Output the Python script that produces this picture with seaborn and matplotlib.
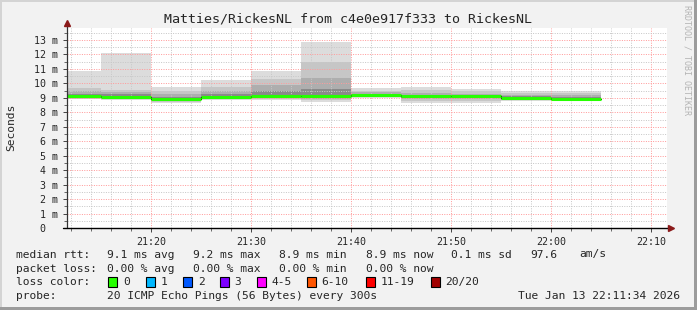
import matplotlib
matplotlib.use("Agg")
import matplotlib.pyplot as plt
from matplotlib.patches import Rectangle
import numpy as np
import pandas as pd
import seaborn as sns

# ---------------- data ----------------
seg_start = ["21:10", "21:15", "21:20", "21:25", "21:30", "21:35",
             "21:40", "21:45", "21:50", "21:55", "22:00"]
seg_len_min = 5
rtt_max    = [10.86, 12.08, 9.73, 10.24, 10.86, 12.86, 9.70, 9.75, 9.60, 9.50, 9.50]
rtt_q90    = [9.70, 9.55, 9.50, 9.75, 10.30, 11.50, 9.50, 9.55, 9.45, 9.35, 9.35]
rtt_q75    = [9.50, 9.40, 9.25, 9.50, 9.90, 10.40, 9.40, 9.35, 9.30, 9.20, 9.20]
rtt_q60    = [9.30, 9.25, 9.05, 9.25, 9.50, 9.60, 9.30, 9.20, 9.20, 9.10, 9.05]
rtt_median = [9.13, 9.08, 8.94, 9.08, 9.13, 9.15, 9.22, 9.10, 9.13, 8.99, 8.92]
rtt_q40    = [9.05, 9.00, 8.88, 9.00, 9.05, 9.05, 9.15, 9.00, 9.00, 8.93, 8.88]
rtt_q25    = [9.00, 8.95, 8.80, 8.95, 9.00, 8.95, 9.10, 8.90, 8.90, 8.88, 8.85]
rtt_q10    = [8.95, 8.90, 8.70, 8.90, 8.93, 8.85, 9.05, 8.75, 8.75, 8.83, 8.82]
rtt_min    = [8.90, 8.85, 8.62, 8.85, 8.85, 8.70, 8.97, 8.62, 8.62, 8.78, 8.78]

window_start = "21:11:34"
window_end = "22:11:34"
x_tick_labels = ["21:20", "21:30", "21:40", "21:50", "22:00", "22:10"]
y_ticks = list(range(0, 14))
y_tick_labels = ["0  "] + [f"{v} m" for v in y_ticks[1:]]

title = "Matties/RickesNL from c4e0e917f333 to RickesNL"
y_label = "Seconds"
median_line = ["median rtt:", "9.1 ms avg", "9.2 ms max", "8.9 ms min",
               "8.9 ms now", "0.1 ms sd", "97.6", "am/s"]
loss_line = ["packet loss:", "0.00 % avg", "0.00 % max", "0.00 % min", "0.00 % now"]
loss_labels = ["0", "1", "2", "3", "4-5", "6-10", "11-19", "20/20"]
loss_colors = ["#26ff00", "#00b8ff", "#0059ff", "#7e00ff", "#ff00ff",
               "#ff5500", "#ff0000", "#a10000"]
probe_text = "20 ICMP Echo Pings (56 Bytes) every 300s"
stamp_text = "Tue Jan 13 22:11:34 2026"
watermark = "RRDTOOL / TOBI OETIKER"


def to_min(s):
    parts = [int(p) for p in s.split(":")]
    h, m = parts[0], parts[1]
    sec = parts[2] if len(parts) > 2 else 0
    return (h - 21) * 60 + m + sec / 60.0


# ---------------- figure ----------------
sns.set_style("white")
plt.rcParams["font.family"] = ["DejaVu Sans Mono", "DejaVu Sans"]

W, H = 697, 310
fig = plt.figure(figsize=(W / 100, H / 100), dpi=100)
fig.patch.set_facecolor("#f2f2f2")

# frame shading
fig.add_artist(Rectangle((0, 0), 2 / W, 1, transform=fig.transFigure,
                         facecolor="#d4d4d4", edgecolor="none"))
fig.add_artist(Rectangle((0, 1 - 2 / H), 1, 2 / H, transform=fig.transFigure,
                         facecolor="#d4d4d4", edgecolor="none"))
fig.add_artist(Rectangle((1 - 3 / W, 0), 3 / W, 1, transform=fig.transFigure,
                         facecolor="#9c9c9c", edgecolor="none"))
fig.add_artist(Rectangle((0, 0), 1, 3 / H, transform=fig.transFigure,
                         facecolor="#9c9c9c", edgecolor="none"))

ax_l, ax_r, ax_t, ax_b = 66.7, 666.7, 28.0, 228.0
ax = fig.add_axes([ax_l / W, 1 - ax_b / H, (ax_r - ax_l) / W, (ax_b - ax_t) / H])
ax.set_facecolor("white")

starts = np.array([to_min(s) for s in seg_start])
edges = np.append(starts, starts[-1] + seg_len_min)


def ext(v):
    return np.append(np.array(v), v[-1])


bands = [(rtt_min, rtt_max, "#dcdcdc"),
         (rtt_q10, rtt_q90, "#c6c6c6"),
         (rtt_q25, rtt_q75, "#aeaeae"),
         (rtt_q40, rtt_q60, "#8a8a8a")]
for lo, hi, col in bands:
    ax.fill_between(edges, ext(lo), ext(hi), step="post", color=col,
                    linewidth=0, zorder=2)

df = pd.DataFrame({"t": edges, "median": ext(rtt_median)})
sns.lineplot(data=df, x="t", y="median", drawstyle="steps-post",
             estimator=None, color="black", linewidth=0.8, ax=ax, zorder=3)
ax.hlines(rtt_median, starts, starts + seg_len_min, color=loss_colors[0],
          linewidth=2.2, zorder=4)

ax.set_xlim(to_min(window_start), to_min(window_end))
ax.set_ylim(0, (ax_b - ax_t) / 14.46)

x_major = [to_min(s) for s in x_tick_labels]
ax.set_xticks(x_major)
ax.set_xticklabels(x_tick_labels, fontsize=7.2)
ax.set_xticks(np.arange(12, to_min(window_end), 2), minor=True)
ax.set_yticks(y_ticks)
ax.set_yticklabels(y_tick_labels, fontsize=7.2)
ax.set_yticks(np.arange(0.5, 14, 1.0), minor=True)

ax.set_axisbelow(False)
ax.grid(which="major", color="#ff9c9c", linestyle=(0, (1, 1.4)), linewidth=0.72)
ax.grid(which="minor", color="#c8c8c8", linestyle=(0, (1, 1.4)), linewidth=0.72)

ax.tick_params(axis="both", which="major", length=3, width=0.7, color="#444444",
               pad=3, direction="out")
ax.tick_params(axis="both", which="minor", length=2, width=0.7, color="#666666",
               direction="out")
ax.tick_params(axis="x", which="major", pad=3.5)
ax.tick_params(left=True, bottom=True, which="both")

for sp in ax.spines.values():
    sp.set_visible(False)
ax.set_xlabel("")
ax.set_ylabel("")

aw, ah = ax_r - ax_l, ax_b - ax_t
# axes lines with arrows
ax.plot([0, 0], [0, (ax_b - 24) / ah], transform=ax.transAxes, color="#333333",
        lw=0.9, clip_on=False, zorder=6)
ax.plot([(62.7 - ax_l) / aw, (670 - ax_l) / aw], [0, 0], transform=ax.transAxes,
        color="black", lw=1.0, clip_on=False, zorder=6)
ax.plot([0], [(ax_b - 23) / ah], marker="^", color="#8b1a1a", markersize=4.5,
        transform=ax.transAxes, clip_on=False, zorder=7)
ax.plot([(671 - ax_l) / aw], [0], marker=">", color="#8b1a1a", markersize=4.5,
        transform=ax.transAxes, clip_on=False, zorder=7)

# texts
def ftext(x, y, s, **kw):
    fig.text(x / W, 1 - y / H, s, **kw)

ftext(348.5, 19.5, title, fontsize=9.6, ha="center", va="center")
ftext(10.8, 127, y_label, fontsize=8.1, ha="center", va="center", rotation=90)
ftext(687.5, 60, watermark, fontsize=6, ha="center", va="center",
      rotation=270, color="#b4b4b4")

x1 = [16, 107.3, 193.3, 279.3, 365.7, 451, 530, 579.3]
for x, s in zip(x1, median_line):
    ftext(x, 254.5, s, fontsize=8.1, ha="left", va="center")
for x, s in zip(x1, loss_line):
    ftext(x, 268.5, s, fontsize=8.1, ha="left", va="center")

ftext(16, 282, "loss color:", fontsize=8.1, ha="left", va="center")
box_x = [108.3, 145.7, 182.7, 219.7, 256.7, 306.7, 365.7, 430.7]
lab_x = [123.3, 160.7, 197.7, 234.7, 271.7, 321.7, 380.3, 445.3]
for bx, lx, lab, col in zip(box_x, lab_x, loss_labels, loss_colors):
    fig.add_artist(Rectangle((bx / W, 1 - 287 / H), 9 / W, 10 / H,
                             transform=fig.transFigure, facecolor=col,
                             edgecolor="black", linewidth=0.8))
    ftext(lx, 282, lab, fontsize=8.1, ha="left", va="center")

ftext(16, 296, "probe:", fontsize=8.1, ha="left", va="center")
ftext(107.3, 296, probe_text, fontsize=8.1, ha="left", va="center")
ftext(680, 296, stamp_text, fontsize=8.1, ha="right", va="center")

fig.savefig("out.png", dpi=100, facecolor=fig.get_facecolor())
